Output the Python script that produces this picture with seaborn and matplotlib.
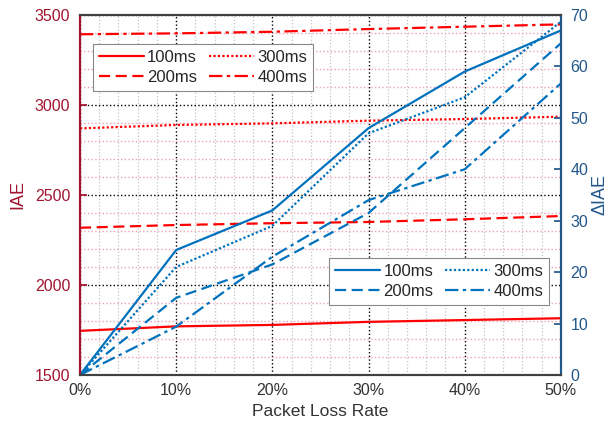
import numpy as np
import pandas as pd
import seaborn as sns
import matplotlib.pyplot as plt
from matplotlib.ticker import MultipleLocator, FuncFormatter

loss_rate = [0, 10, 20, 30, 40, 50]
delays = ["100ms", "200ms", "300ms", "400ms"]

iae_100 = [1745, 1770, 1778, 1795, 1805, 1815]
iae_200 = [2318, 2333, 2343, 2350, 2365, 2383]
iae_300 = [2870, 2889, 2898, 2913, 2922, 2935]
iae_400 = [3393, 3398, 3407, 3422, 3435, 3448]

diae_100 = [0, 24.3, 32, 48, 59, 67]
diae_200 = [0, 15, 21.5, 31.5, 48, 64.5]
diae_300 = [0, 21, 29, 47, 54, 68.7]
diae_400 = [0, 9.4, 23, 34, 40, 56.7]

RED = "#FF0000"
BLUE = "#0072BD"
LEFT_C = "#A2142F"
RIGHT_C = "#22578A"
GRAY = "#404040"

def long_df(series):
    rows = []
    for name, vals in zip(delays, series):
        for x, v in zip(loss_rate, vals):
            rows.append({"loss": x, "value": v, "delay": name})
    return pd.DataFrame(rows)

df_iae = long_df([iae_100, iae_200, iae_300, iae_400])
df_diae = long_df([diae_100, diae_200, diae_300, diae_400])

dashes = {"100ms": "", "200ms": (5, 2.5), "300ms": (1, 1), "400ms": (6, 2, 1.5, 2)}

sns.set_theme(style="white")
plt.rcParams["font.family"] = ["Liberation Sans", "DejaVu Sans"]

fig = plt.figure(figsize=(6.13, 4.29), dpi=100)
ax = fig.add_axes([0.1305, 0.126, 0.7845, 0.839])
ax2 = ax.twinx()

sns.lineplot(data=df_iae, x="loss", y="value", hue="delay", style="delay",
             palette=[RED] * 4, dashes=dashes, linewidth=1.6, ax=ax)
sns.lineplot(data=df_diae, x="loss", y="value", hue="delay", style="delay",
             palette=[BLUE] * 4, dashes=dashes, linewidth=1.6, ax=ax2)

ax.set_xlim(0, 50)
ax.set_ylim(1500, 3500)
ax2.set_ylim(0, 70)

ax.xaxis.set_major_locator(MultipleLocator(10))
ax.xaxis.set_minor_locator(MultipleLocator(2))
ax.yaxis.set_major_locator(MultipleLocator(500))
ax.yaxis.set_minor_locator(MultipleLocator(100))
ax2.yaxis.set_major_locator(MultipleLocator(10))
ax.xaxis.set_major_formatter(FuncFormatter(lambda v, p: f"{v:.0f}%"))

ax.tick_params(axis="both", which="both", direction="in", labelsize=11.5, pad=7)
ax.tick_params(axis="both", which="minor", length=0)
ax.tick_params(axis="x", colors=GRAY, labelcolor="#333333", length=5, pad=6)
ax.tick_params(axis="y", colors=LEFT_C, length=5)
ax2.tick_params(axis="y", direction="in", colors=RIGHT_C, labelsize=11.5, length=5, pad=7)

ax.grid(which="major", axis="both", color="black", linestyle=":", linewidth=1.0)
ax.xaxis.grid(True, which="minor", color="#c4c4c4", linestyle=":", linewidth=0.9)
ax.yaxis.grid(True, which="minor", color="#eba2b6", linestyle=":", linewidth=1.0)
ax.set_axisbelow(True)

for s in ["top", "bottom"]:
    ax.spines[s].set_color(GRAY)
    ax2.spines[s].set_color(GRAY)
ax2.spines["left"].set_color(LEFT_C)
ax.spines["left"].set_color(LEFT_C)
ax2.spines["right"].set_color(RIGHT_C)
for a in (ax, ax2):
    for s in a.spines.values():
        s.set_linewidth(1.5)

ax.set_xlabel("Packet Loss Rate", fontsize=12.5, color="#333333", labelpad=4)
ax.set_ylabel("IAE", fontsize=13, color=LEFT_C, labelpad=6)
ax2.set_ylabel("ΔIAE", fontsize=13, color=RIGHT_C, labelpad=2)

leg_kw = dict(ncols=2, loc="upper left", fontsize=12, frameon=True, fancybox=False,
              edgecolor="#888888", framealpha=1, handlelength=2.7, columnspacing=0.7,
              handletextpad=0.2, borderpad=0.35, labelspacing=0.3, borderaxespad=0)
leg1 = ax.legend(bbox_to_anchor=(0.027, 0.919), **leg_kw)
leg1.get_frame().set_linewidth(0.8)
leg2 = ax2.legend(bbox_to_anchor=(0.518, 0.325), **leg_kw)
leg2.get_frame().set_linewidth(0.8)

fig.savefig("out.png", dpi=100)
